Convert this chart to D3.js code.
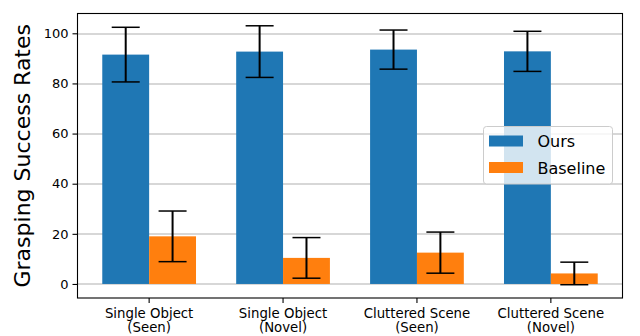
<!DOCTYPE html>
<html>
<head>
<meta charset="utf-8">
<script src="https://cdn.jsdelivr.net/npm/d3@7"></script>
<style>
  body { margin: 0; background: #fff; }
  svg { display: block; font-family: "DejaVu Sans", sans-serif; }
</style>
</head>
<body>
<svg id="chart" width="640" height="336"></svg>
<script>
// categories on the x axis (two lines each)
var categories = [
    ["Single Object", "(Seen)"],
    ["Single Object", "(Novel)"],
    ["Cluttered Scene", "(Seen)"],
    ["Cluttered Scene", "(Novel)"]
];

var seriesNames = ["Ours", "Baseline"];
var seriesColors = ["#1f77b4", "#ff7f0e"];

// mean values and std (error bars)
var oursValues = [91.5, 92.7, 93.5, 92.8];
var oursErrors = [10.9, 10.3, 7.8, 8.0];
var baselineValues = [19.0, 10.4, 12.5, 4.2];
var baselineErrors = [10.1, 8.1, 8.2, 4.5];

var yTicks = [0, 20, 40, 60, 80, 100];

var svg = d3.select("#chart");

var margin = {top: 13.5, right: 17.5, bottom: 38, left: 77.5},
    width = 640 - margin.left - margin.right,
    height = 336 - margin.top - margin.bottom;

var barWidth = 0.35;

var x = d3.scaleLinear().domain([-0.535, 3.535]).range([0, width]);
var y = d3.scaleLinear().domain([-5.6, 107.9]).range([height, 0]);

var g = svg.append("g")
    .attr("transform", "translate(" + margin.left + "," + margin.top + ")");

// horizontal grid, below the bars
g.append("g")
    .selectAll("line")
    .data(yTicks)
    .enter()
    .append("line")
        .attr("x1", 0)
        .attr("x2", width)
        .attr("y1", function(d){ return Math.round(y(d)) + 0.5; })
        .attr("y2", function(d){ return Math.round(y(d)) + 0.5; })
        .attr("stroke", "#b0b0b0")
        .attr("stroke-width", 1.1);

var series = [
    {name: seriesNames[0], color: seriesColors[0], values: oursValues, errors: oursErrors, offset: -barWidth / 2},
    {name: seriesNames[1], color: seriesColors[1], values: baselineValues, errors: baselineErrors, offset: barWidth / 2}
];

series.forEach(function(s){
    var bars = g.append("g");
    bars.selectAll("rect")
        .data(s.values)
        .enter()
        .append("rect")
            .attr("x", function(d, i){ return x(i + s.offset - barWidth / 2); })
            .attr("width", x(barWidth) - x(0))
            .attr("y", function(d){ return y(d); })
            .attr("height", function(d){ return y(0) - y(d); })
            .attr("fill", s.color);
});

// error bars on top
series.forEach(function(s){
    var eb = g.append("g")
        .attr("stroke", "#000")
        .attr("stroke-width", 2);
    s.values.forEach(function(v, i){
        var cx = x(i + s.offset);
        var e = s.errors[i];
        eb.append("line")
            .attr("x1", cx).attr("x2", cx)
            .attr("y1", y(v - e)).attr("y2", y(v + e));
        [v - e, v + e].forEach(function(t){
            eb.append("line")
                .attr("x1", cx - 14).attr("x2", cx + 14)
                .attr("y1", y(t)).attr("y2", y(t))
                .attr("stroke-width", 1.5);
        });
    });
});

// y axis
var yAxis = d3.axisLeft(y).tickValues(yTicks).tickSize(5).tickPadding(4);
var yg = g.append("g").call(yAxis);
yg.select(".domain").remove();
yg.selectAll("text").attr("font-size", 13).attr("fill", "#000").attr("font-family", "DejaVu Sans");
yg.selectAll("line").attr("stroke", "#000").attr("stroke-width", 1.1);

// x axis ticks
var xg = g.append("g").attr("transform", "translate(0," + height + ")");
categories.forEach(function(c, i){
    xg.append("line")
        .attr("x1", x(i)).attr("x2", x(i))
        .attr("y1", 0).attr("y2", 5)
        .attr("stroke", "#000").attr("stroke-width", 1.1);
    var t = xg.append("text")
        .attr("text-anchor", "middle")
        .attr("font-size", 13.3)
        .attr("fill", "#000");
    c.forEach(function(line, k){
        t.append("tspan")
            .attr("x", x(i))
            .attr("y", 20 + k * 14)
            .text(line);
    });
});

// frame
g.append("rect")
    .attr("x", 0).attr("y", 0)
    .attr("width", width).attr("height", height)
    .attr("fill", "none")
    .attr("stroke", "#000")
    .attr("stroke-width", 1.1);

// y label
svg.append("text")
    .attr("transform", "translate(30," + (margin.top + height / 2) + ") rotate(-90)")
    .attr("text-anchor", "middle")
    .attr("font-size", 22)
    .attr("fill", "#000")
    .text("Grasping Success Rates");

// legend
var legend = svg.append("g").attr("transform", "translate(483.5,126.5)");
legend.append("rect")
    .attr("width", 129)
    .attr("height", 57.5)
    .attr("rx", 3)
    .attr("fill", "#fff")
    .attr("fill-opacity", 0.8)
    .attr("stroke", "#cccccc")
    .attr("stroke-width", 1);
series.forEach(function(s, i){
    legend.append("rect")
        .attr("x", 5.5)
        .attr("y", 9 + i * 26.5)
        .attr("width", 34)
        .attr("height", 11)
        .attr("fill", s.color);
    legend.append("text")
        .attr("x", 54)
        .attr("y", 20.5 + i * 26.5)
        .attr("font-size", 16)
        .attr("fill", "#000")
        .text(s.name);
});
</script>
</body>
</html>
